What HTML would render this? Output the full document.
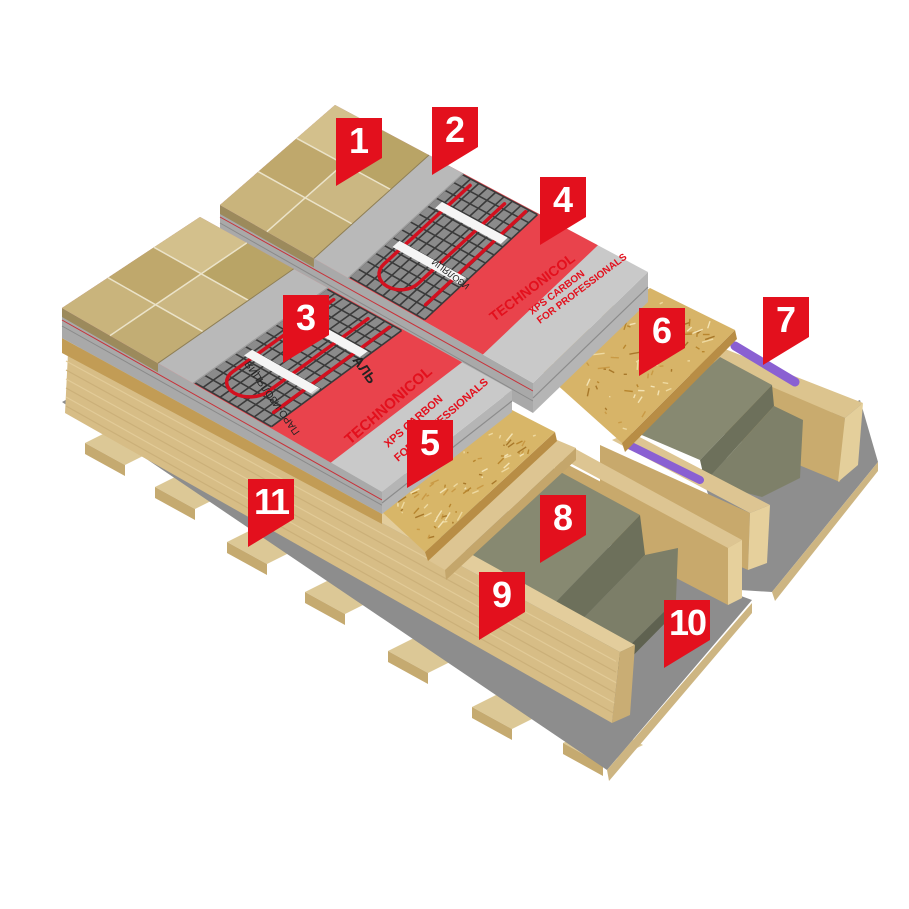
<!DOCTYPE html>
<html><head><meta charset="utf-8">
<style>
html,body{margin:0;padding:0;background:#fff;}
svg{display:block;}
.lbl{font-family:"Liberation Sans",sans-serif;font-weight:bold;font-size:36px;fill:#fff;text-anchor:middle;}
.xt{font-family:"Liberation Sans",sans-serif;font-weight:bold;fill:#e3101d;}
.ft{font-family:"Liberation Sans","Noto Sans CJK SC",sans-serif;fill:#222;}
</style></head>
<body>
<svg id="s" width="909" height="909" viewBox="0 0 909 909" xmlns="http://www.w3.org/2000/svg">
<rect width="909" height="909" fill="#fff"/>
<g id="g0"></g><g id="g1"></g><g id="g2"></g><g id="g3"></g><g id="g4"></g><g id="g5"></g>
<g>
<text class="xt" font-size="15" transform="translate(350,445) rotate(-41)">TECHNONICOL</text>
<text class="xt" font-size="11" transform="translate(388,448) rotate(-41)">XPS CARBON</text>
<text class="xt" font-size="11" transform="translate(398,462) rotate(-41)">FOR PROFESSIONALS</text>
<text class="ft" font-size="10" transform="translate(300,432) rotate(-125)">ПАРО-ИЗОЛЯЦИЯ</text>
<text class="ft" font-size="14" font-weight="bold" transform="translate(352,360) rotate(55)">АЛЬ</text>
<text class="xt" font-size="14" transform="translate(494,322) rotate(-37)">TECHNONICOL</text>
<text class="xt" font-size="10" transform="translate(532,315) rotate(-37)">XPS CARBON</text>
<text class="xt" font-size="10" transform="translate(540,324) rotate(-37)">FOR PROFESSIONALS</text>
<text class="ft" font-size="9" transform="translate(470,285) rotate(-143)">ИЗОЛЯЦИ</text>
</g>
<g id="labels"></g>
</svg>
<script>
const NS='http://www.w3.org/2000/svg';
function G(id){return document.getElementById(id);}
function fmt(pts){return pts.map(p=>p[0].toFixed(1)+','+p[1].toFixed(1)).join(' ');}
function P(g,pts,fill,op){const e=document.createElementNS(NS,'polygon');e.setAttribute('points',fmt(pts));e.setAttribute('fill',fill);if(op)e.setAttribute('opacity',op);g.appendChild(e);return e;}
function L(g,pts,stroke,w,cap){const e=document.createElementNS(NS,'polyline');e.setAttribute('points',fmt(pts));e.setAttribute('fill','none');e.setAttribute('stroke',stroke);e.setAttribute('stroke-width',w);e.setAttribute('stroke-linecap',cap||'butt');e.setAttribute('stroke-linejoin','round');g.appendChild(e);return e;}
function bl(Q,s,t){const [A,D,C,B]=Q;return [(1-s)*(1-t)*A[0]+s*(1-t)*D[0]+s*t*C[0]+(1-s)*t*B[0],(1-s)*(1-t)*A[1]+s*(1-t)*D[1]+s*t*C[1]+(1-s)*t*B[1]];}
function q(Q,s0,s1,t0,t1){return [bl(Q,s0,t0),bl(Q,s1,t0),bl(Q,s1,t1),bl(Q,s0,t1)];}
function ad(p,dy){return [p[0],p[1]+dy];}
let seed=7;function rnd(){seed=(seed*16807)%2147483647;return seed/2147483647;}
function osb(g,Q,base){P(g,Q,base);const cols=['#b8862e','#eed9a0','#c99a45','#f3e3b4','#a8782a'];
 for(let i=0;i<70;i++){const s=0.05+rnd()*0.9,t=0.05+rnd()*0.9,ds=(rnd()-0.5)*0.12,dt=(rnd()-0.5)*0.12;
  L(g,[bl(Q,s,t),bl(Q,Math.min(.98,Math.max(.02,s+ds)),Math.min(.98,Math.max(.02,t+dt)))],cols[i%5],1.4);}}

const g0=G('g0');
[[85,443],[155,487],[227,542],[305,592],[388,651],[472,707],[563,743]].forEach(([x,y])=>{
 P(g0,[[x,y],[x+40,y-20],[x+80,y+2],[x+40,y+22]],'#dcc896');
 P(g0,[[x,y],[x+40,y+22],[x+40,y+33],[x,y+11]],'#c5aa70');
});
P(g0,[[700,470],[860,400],[878,462],[772,592],[740,590]],'#8e8e8e');
P(g0,[[772,592],[878,462],[878,471],[775,601]],'#cdb582');
P(g0,[[62,402],[120,370],[752,600],[607,770]],'#8d8d8d');
P(g0,[[607,770],[752,603],[752,613],[609,781]],'#cdb582');

const g1=G('g1');
P(g1,[[600,300],[863,403],[845,418],[590,312]],'#dcc48e');
P(g1,[[690,352],[845,418],[840,482],[690,420]],'#c9ab6e');
P(g1,[[845,418],[863,403],[858,465],[838,482]],'#e4cf9b');
P(g1,[[637,433],[720,357],[772,385],[700,460]],'#878971');
P(g1,[[700,460],[772,385],[774,406],[705,482]],'#6d705b');
P(g1,[[705,482],[774,406],[803,420],[800,478],[762,497]],'#7e8069');
L(g1,[[735,346],[795,382]],'#8a60d2',9,'round');
P(g1,[[600,445],[750,513],[748,570],[600,505]],'#c8a96c');
P(g1,[[612,440],[630,432],[770,505],[750,513]],'#ddc592');
P(g1,[[750,513],[770,505],[767,563],[748,570]],'#e6d09c');
L(g1,[[627,444],[700,480]],'#8a60d2',8,'round');
P(g1,[[622,443],[735,330],[737,339],[625,452]],'#b88d45');
osb(g1,[[535,365],[622,443],[735,330],[650,288]],'#d7b468');

function slab(g,Q,h0,h1){
 const [A,D,C,B]=Q;
 P(g,[A,D,ad(D,h1),ad(A,h0)],'#a9a9a9');
 const T=bl(Q,.3,0);
 P(g,[A,T,ad(T,9),ad(A,9)],'#9c8a5c');
 L(g,[ad(A,12),ad(D,8)],'#c8323a',1);
 L(g,[ad(A,h0*0.6),ad(D,h1*0.6)],'#8a8a8a',1);
 P(g,[D,C,ad(C,h1),ad(D,h1)],'#b5b5b5');
 L(g,[ad(D,h1*0.5),ad(C,h1*0.5)],'#8c8c8c',1.2);
 P(g,Q,'#c9c9c9');
 P(g,q(Q,0,.84,0,1),'#e9434c');
 P(g,q(Q,.41,.65,0.01,.99),'#8b8b8b');
 for(let i=0;i<=9;i++){const s=.41+i*.0267;L(g,[bl(Q,s,.01),bl(Q,s,.99)],'#3a3a3a',1.6);}
 for(let j=0;j<=13;j++){const t=.01+j*.0754;L(g,[bl(Q,.41,t),bl(Q,.65,t)],'#3a3a3a',1.6);}
 const pts=[];for(let t=.95;t>=.2;t-=.05)pts.push(bl(Q,.45,t));
 for(let k=0;k<=16;k++){const th=Math.PI*k/16;pts.push(bl(Q,.505-.055*Math.cos(th),.2-.12*Math.sin(th)));}
 for(let t=.2;t<=.97;t+=.05)pts.push(bl(Q,.56,t));
 L(g,pts,'#d3101f',3.5,'round');
 L(g,[bl(Q,.62,.1),bl(Q,.62,.97)],'#d3101f',3.5,'round');
 P(g,q(Q,.43,.64,.33,.39),'#f5f5f5');
 P(g,q(Q,.43,.64,.70,.76),'#f5f5f5');
 P(g,q(Q,.64,.645,.33,.39),'#cfcfcf');
 P(g,q(Q,0,.41,0,1),'#b9b9b9');
 L(g,[bl(Q,.41,0),bl(Q,.41,1)],'#9e9e9e',1.5);
 const tc=['#c9b47c','#bfa86c','#d3c08c','#c2ad74','#cbb782','#b9a466'];
 let k=0;
 for(let a=0;a<2;a++)for(let b=0;b<3;b++){P(g,q(Q,a*.15,(a+1)*.15,b/3,(b+1)/3),tc[k++]);}
 L(g,[bl(Q,.15,0),bl(Q,.15,1)],'#ebe3c9',1.5);
 L(g,[bl(Q,0,1/3),bl(Q,.3,1/3)],'#ebe3c9',1.5);
 L(g,[bl(Q,0,2/3),bl(Q,.3,2/3)],'#ebe3c9',1.5);
 L(g,[bl(Q,.3,0),bl(Q,.3,1)],'#8f7f55',1);
}

slab(G('g2'),[[220,205],[533,383],[648,272],[335,105]],30,30);

const g3=G('g3');
P(g3,[[555,458],[728,548],[728,605],[555,515]],'#c8a96c');
P(g3,[[555,455],[572,447],[742,540],[728,548]],'#ddc592');
P(g3,[[728,548],[742,540],[742,598],[728,605]],'#e6d09c');
P(g3,[[463,557],[553,468],[640,515],[553,605]],'#878971');
P(g3,[[553,605],[640,515],[645,555],[565,637]],'#6d705b');
P(g3,[[565,637],[645,555],[678,548],[676,600],[610,665]],'#7c7e68');
P(g3,[[610,665],[676,600],[676,612],[612,677]],'#5f6250');

const g4=G('g4');
P(g4,[[68,353],[620,652],[612,723],[65,413]],'#d7bd86');
for(let i=0;i<6;i++){const o=8+i*9;L(g4,[[66,353+o],[616,652+o*1.18]],i%2?'#cbb079':'#e2cb98',1.2);}
P(g4,[[68,353],[90,343],[635,645],[620,652]],'#e3cd9c');
P(g4,[[620,652],[635,645],[630,715],[612,723]],'#c9ad74');
P(g4,[[62,338],[382,514],[382,524],[62,353]],'#c29c55');
P(g4,[[428,560],[557,440],[576,448],[445,570]],'#ddc592');
P(g4,[[445,570],[576,448],[576,460],[446,580]],'#c4a66b');
P(g4,[[425,552],[555,432],[557,441],[428,561]],'#b88d45');
osb(g4,[[382,512],[425,552],[555,432],[512,410]],'#d8b668');

slab(G('g5'),[[62,308],[382,492],[512,390],[200,217]],30,22);

const gl=G('labels');
[[1,336,118],[2,432,107],[3,283,295],[4,540,177],[5,407,420],[6,639,308],[7,763,297],[8,540,495],[9,479,572],[10,664,600],[11,248,479]].forEach(([n,x,y])=>{
 P(gl,[[x,y],[x+46,y],[x+46,y+40],[x,y+68]],'#e3101d');
 const t=document.createElementNS(NS,'text');
 t.setAttribute('x',x+23);t.setAttribute('y',y+35);t.setAttribute('class','lbl');
 if(n>=10){t.setAttribute('font-size','30');t.setAttribute('letter-spacing','-2');}
 t.textContent=n;gl.appendChild(t);
});
</script>
</body></html>
